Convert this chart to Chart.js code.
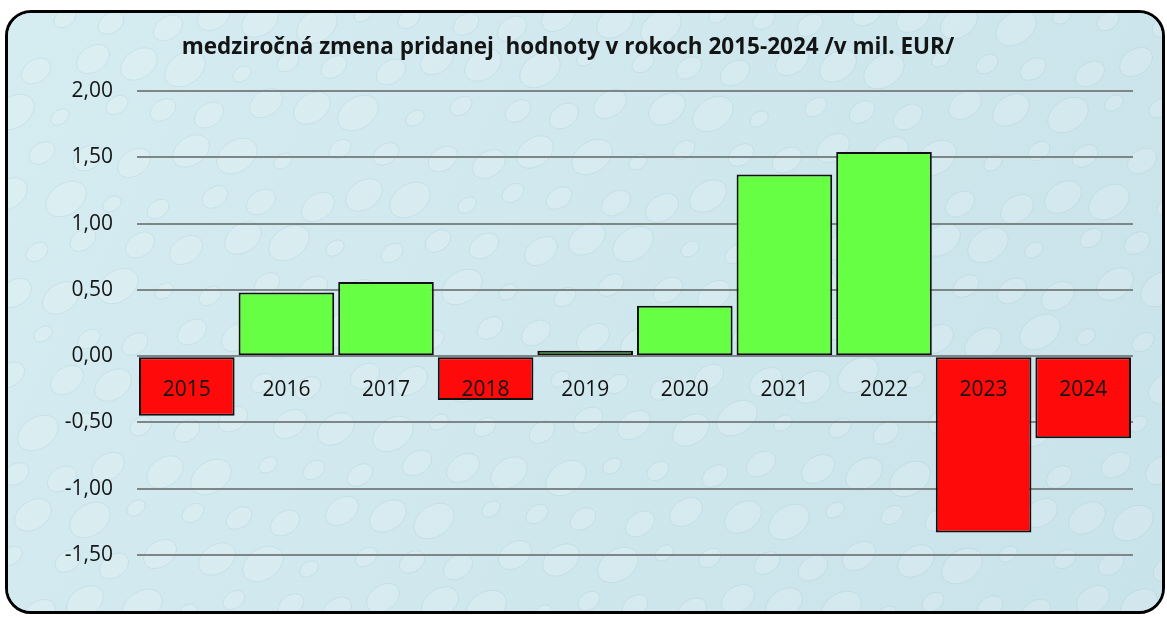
<!DOCTYPE html>
<html>
<head>
<meta charset="utf-8">
<script src="https://cdn.jsdelivr.net/npm/chart.js@4/dist/chart.umd.min.js"></script>
<style>
  body { margin: 0; background: #fff; }
  #box {
    position: absolute; left: 5px; top: 10px;
    width: 1154px; height: 598px;
    border: 3px solid #000; border-radius: 26px;
    background: #cfe7ed; overflow: hidden;
  }
</style>
</head>
<body>
<div id="box"><canvas id="chart"></canvas></div>
<script>
const years = ['2015', '2016', '2017', '2018', '2019', '2020', '2021', '2022', '2023', '2024'];
const changes = [-0.45, 0.48, 0.56, -0.33, 0.04, 0.38, 1.37, 1.54, -1.33, -0.62];
const yTicks = [-1.5, -1, -0.5, 0, 0.5, 1, 1.5, 2];
const titleText = 'medziročná zmena pridanej  hodnoty v rokoch 2015-2024 /v mil. EUR/';

const green = '#66ff44';
const red = '#ff0a0a';
const fontFam = "'Open Sans', 'Liberation Sans', sans-serif";

// light blue backdrop with a faint droplet texture
const backdrop = {
  id: 'backdrop',
  beforeDraw(chart) {
    const { ctx, width, height } = chart;
    ctx.save();
    const g = ctx.createLinearGradient(0, 0, width, height);
    g.addColorStop(0, '#d5ecf1');
    g.addColorStop(1, '#c9e3ea');
    ctx.fillStyle = g;
    ctx.fillRect(0, 0, width, height);
    ctx.fillStyle = 'rgba(255,255,255,0.16)';
    ctx.strokeStyle = 'rgba(120,170,185,0.16)';
    for (let r = 0; r < 14; r++) {
      for (let c = 0; c < 24; c++) {
        const x = c * 50 + (r % 2) * 25 + ((c * 7 + r * 3) % 11);
        const y = r * 45 + ((c * 5 + r * 13) % 17);
        const rw = 10 + ((c + r * 3) % 7) * 2;
        ctx.beginPath();
        ctx.ellipse(x, y, rw, rw * 0.7, -0.6, 0, Math.PI * 2);
        ctx.fill();
        ctx.stroke();
      }
    }
    ctx.restore();
  }
};

const titleDraw = {
  id: 'titleDraw',
  afterDraw(chart) {
    const { ctx } = chart;
    ctx.save();
    ctx.font = "bold 22.5px " + fontFam;
    ctx.fillStyle = '#141414';
    ctx.textAlign = 'center';
    ctx.textBaseline = 'middle';
    ctx.fillText(titleText, 560, 35);
    ctx.restore();
  }
};

new Chart(document.getElementById('chart'), {
  type: 'bar',
  data: {
    labels: years,
    datasets: [{
      data: changes,
      backgroundColor: changes.map(v => (v < 0 ? red : green)),
      borderColor: '#111',
      borderWidth: 2,
      borderSkipped: false,
      barPercentage: 0.96,
      categoryPercentage: 1,
    }],
  },
  options: {
    responsive: true,
    maintainAspectRatio: false,
    animation: false,
    layout: { padding: { top: 78, right: 29, bottom: 56, left: 0 } },
    scales: {
      x: {
        position: { y: 0 },
        grid: { display: false },
        border: { display: false },
        ticks: {
          z: 1,
          color: '#141414',
          font: { family: fontFam, size: 21 },
          padding: 13,
          maxRotation: 0,
        },
      },
      y: {
        min: -1.5,
        max: 2,
        afterFit: s => { s.width = 129; },
        afterBuildTicks: s => { s.ticks = yTicks.map(v => ({ value: v })); },
        grid: { color: '#7f8688', lineWidth: 2, drawTicks: false },
        border: { display: false },
        ticks: {
          color: '#141414',
          font: { family: fontFam, size: 21 },
          padding: 24,
          callback: v => v.toFixed(2).replace('.', ','),
        },
      },
    },
    plugins: {
      legend: { display: false },
      tooltip: { enabled: false },
    },
  },
  plugins: [backdrop, titleDraw],
});
</script>
</body>
</html>
